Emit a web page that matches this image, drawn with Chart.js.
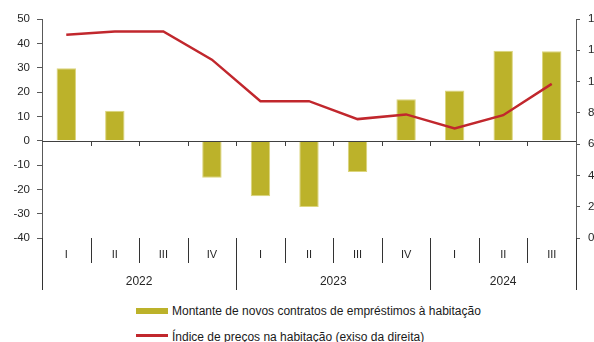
<!DOCTYPE html>
<html>
<head>
<meta charset="utf-8">
<script src="https://cdn.jsdelivr.net/npm/chart.js@4.4.1/dist/chart.umd.min.js"></script>
<style>
  html, body { margin: 0; padding: 0; background: #fff; overflow: hidden; }
  #wrap { position: relative; width: 594px; height: 342px; overflow: hidden; }
  #chart1 { position: absolute; left: 0; top: 0; }
  .legend-item { position: absolute; left: 136px; font: 12px "Liberation Sans", Arial, sans-serif; color: #1a1a1a; white-space: nowrap; }
  .swatch { position: absolute; left: 0; width: 32px; }
  .legend-item span { position: absolute; left: 36px; top: 0; line-height: 12px; }
</style>
</head>
<body>
<div id="wrap">
  <canvas id="chart1" width="610" height="300"></canvas>
  <div class="legend-item" id="leg1" style="top: 305px;">
    <div class="swatch" style="top: 2.5px; height: 6px; background: #BCB22A;"></div>
    <span>Montante de novos contratos de empréstimos à habitação</span>
  </div>
  <div class="legend-item" id="leg2" style="top: 331px;">
    <div class="swatch" style="top: 3px; height: 3px; background: #C1272D;"></div>
    <span>Índice de preços na habitação (exiso da direita)</span>
  </div>
</div>
<script>

const quarters = ['I', 'II', 'III', 'IV', 'I', 'II', 'III', 'IV', 'I', 'II', 'III']
const years = ['2022', '2023', '2024']
const quartersPerYear = [4, 4, 3]

const loanAmounts = [29.8, 12.3, -0.4, -15.2, -22.8, -27.3, -12.9, 17.0, 20.6, 37.0, 36.7]
const housePrices = [13.0, 13.2, 13.2, 11.4, 8.75, 8.75, 7.6, 7.9, 7.0, 7.85, 9.85]

const leftTicks = [-40, -30, -20, -10, 0, 10, 20, 30, 40, 50]
const rightTicks = [0, 2, 4, 6, 8, 10, 12, 14]

const axisColor = '#595959'
const textColor = '#262626'
const fontFamily = '"Liberation Sans", Arial, sans-serif'

// zero line with its small ticks, and the two-level quarter / year axis under the plot
const quarterAxis = {
  id: 'quarterAxis',
  afterDraw(chart) {
    const { ctx, chartArea, scales } = chart
    const x = scales.x
    const y0 = scales.y.getPixelForValue(0)
    const bottom = chartArea.bottom
    const n = quarters.length

    const edge = i => i === 0 ? chartArea.left
      : i === n ? chartArea.right
      : (x.getPixelForValue(i - 1) + x.getPixelForValue(i)) / 2

    ctx.save()
    ctx.strokeStyle = '#404040'
    ctx.lineWidth = 1

    ctx.beginPath()
    ctx.moveTo(chartArea.left, Math.round(y0) + 0.5)
    ctx.lineTo(chartArea.right, Math.round(y0) + 0.5)
    for (let i = 1; i < n; i++) {
      const xb = Math.round(edge(i)) + 0.5
      ctx.moveTo(xb, Math.round(y0))
      ctx.lineTo(xb, Math.round(y0) + 5)
    }
    ctx.stroke()

    // separators: short between quarters, long between years and at both ends
    const yearEdges = [0]
    quartersPerYear.reduce((acc, c) => { yearEdges.push(acc + c); return acc + c }, 0)

    ctx.strokeStyle = '#333'
    ctx.beginPath()
    for (let i = 0; i <= n; i++) {
      const xb = Math.round(edge(i)) + 0.5
      const long = yearEdges.includes(i)
      ctx.moveTo(xb, bottom)
      ctx.lineTo(xb, long ? bottom + 52 : bottom + 25)
    }
    ctx.stroke()

    ctx.fillStyle = textColor
    ctx.font = '11px ' + fontFamily
    ctx.textAlign = 'center'
    ctx.textBaseline = 'middle'
    quarters.forEach((q, i) => ctx.fillText(q, x.getPixelForValue(i), bottom + 17))

    ctx.font = '12px ' + fontFamily
    years.forEach((yr, k) => {
      const cx = (edge(yearEdges[k]) + edge(yearEdges[k + 1])) / 2
      ctx.fillText(yr, cx, bottom + 44)
    })
    ctx.restore()
  }
}

const data = {
  labels: quarters,
  datasets: [{
    type: 'line',
    data: housePrices,
    yAxisID: 'y1',
    borderColor: '#C1272D',
    borderWidth: 2.5,
    pointRadius: 0,
    tension: 0,
    order: 0
  }, {
    type: 'bar',
    data: loanAmounts,
    yAxisID: 'y',
    backgroundColor: '#BCB22A',
    borderColor: '#DCD57C',
    borderWidth: 1,
    barPercentage: 0.4,
    categoryPercentage: 1,
    order: 1
  }]
}

const tickFont = { family: fontFamily, size: 11.5 }

const options = {
  responsive: false,
  animation: false,
  layout: { padding: { top: 19, bottom: 62 } },
  plugins: {
    legend: { display: false },
    tooltip: { enabled: false }
  },
  scales: {
    x: {
      display: false
    },
    y: {
      position: 'left',
      min: -40,
      max: 50,
      afterBuildTicks: s => { s.ticks = leftTicks.map(value => ({ value })) },
      afterFit: s => { s.width = 42 },
      ticks: { color: textColor, font: tickFont, padding: 7 },
      grid: { drawOnChartArea: false, drawTicks: true, tickLength: 5, color: axisColor },
      border: { display: true, color: axisColor }
    },
    y1: {
      position: 'right',
      min: 0,
      max: 14,
      afterBuildTicks: s => { s.ticks = rightTicks.map(value => ({ value })) },
      afterFit: s => { s.width = 34 },
      ticks: { color: textColor, font: tickFont, padding: 8 },
      grid: { drawOnChartArea: false, drawTicks: true, tickLength: 4, color: axisColor },
      border: { display: true, color: axisColor }
    }
  }
}

new Chart('chart1', {
  type: 'bar',
  data,
  options,
  plugins: [quarterAxis]
})

</script>
</body>
</html>
